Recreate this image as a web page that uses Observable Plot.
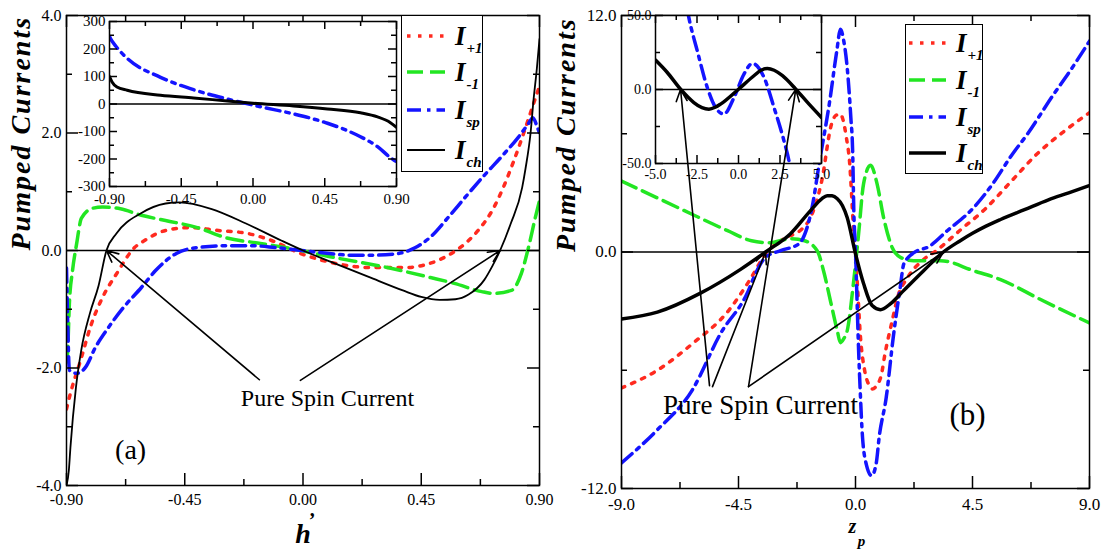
<!DOCTYPE html>
<html><head><meta charset="utf-8">
<script src="https://cdn.jsdelivr.net/npm/d3@7"></script>
<script src="https://cdn.jsdelivr.net/npm/@observablehq/plot@0.6"></script>
<style>
html,body{margin:0;padding:0;background:#fff;}
#root{position:relative;width:1104px;height:554px;overflow:hidden;background:#fff;}
#root svg, #root svg text{font-family:"Liberation Serif","DejaVu Serif","Times New Roman",serif !important;}
.panel{position:absolute;top:0;width:552px;height:554px;}
.layer{position:absolute;}
.legend{position:absolute;background:#fff;border:1.5px solid #000;box-sizing:border-box;}
</style></head><body><div id="root"></div>
<script>
// ---------------- DATA ----------------
const seriesKeys = ["p", "m", "sp", "ch"];
const legendLabels = ["+1", "-1", "sp", "ch"];
const yTitle = "Pumped Currents";
const annotText = "Pure Spin Current";

// Panel (a): x = h', y = pumped current
const aIp = [[-0.9,-2.7],[-0.885,-2.43],[-0.843,-1.82],[-0.809,-1.3],[-0.763,-0.8],[-0.71,-0.4],[-0.641,0.05],[-0.603,0.17],[-0.523,0.34],[-0.428,0.39],[-0.322,0.34],[-0.211,0.29],[-0.12,0.17],[-0.01,-0.05],[0.124,-0.22],[0.257,-0.29],[0.39,-0.29],[0.458,-0.25],[0.565,-0.05],[0.63,0.17],[0.67,0.36],[0.72,0.68],[0.76,1.05],[0.8,1.5],[0.84,2.0],[0.87,2.4],[0.9,2.8]];
const aIm = [[-0.9,-1.9],[-0.896,-1.75],[-0.889,-0.9],[-0.877,-0.34],[-0.862,0.1],[-0.843,0.55],[-0.8,0.72],[-0.763,0.74],[-0.695,0.71],[-0.615,0.6],[-0.523,0.51],[-0.402,0.39],[-0.295,0.22],[-0.162,0.12],[-0.04,0.03],[0.12,-0.12],[0.321,-0.29],[0.485,-0.46],[0.576,-0.56],[0.68,-0.7],[0.725,-0.73],[0.793,-0.68],[0.831,-0.39],[0.858,0.05],[0.884,0.56],[0.9,0.85]];
const aIsp = [[-0.9,-0.3],[-0.896,-1.1],[-0.889,-2.04],[-0.862,-2.09],[-0.828,-1.99],[-0.79,-1.65],[-0.748,-1.36],[-0.683,-0.97],[-0.615,-0.63],[-0.561,-0.34],[-0.482,-0.05],[-0.402,0.05],[-0.295,0.08],[-0.188,0.08],[-0.105,0.05],[0.055,-0.03],[0.188,-0.08],[0.268,-0.08],[0.363,-0.05],[0.428,0.05],[0.49,0.25],[0.55,0.55],[0.62,0.92],[0.69,1.28],[0.76,1.62],[0.82,1.93],[0.858,2.16],[0.875,2.26],[0.89,2.12],[0.9,2.0]];
const aIch = [[-0.9,-4.0],[-0.891,-3.74],[-0.885,-3.35],[-0.864,-2.33],[-0.844,-1.7],[-0.811,-1.07],[-0.778,-0.6],[-0.748,0],[-0.71,0.29],[-0.618,0.63],[-0.523,0.8],[-0.47,0.82],[-0.35,0.71],[-0.217,0.46],[-0.083,0.17],[0,0],[0.116,-0.21],[0.25,-0.45],[0.38,-0.68],[0.45,-0.79],[0.52,-0.84],[0.58,-0.83],[0.63,-0.75],[0.69,-0.5],[0.72,-0.27],[0.75,0],[0.79,0.45],[0.834,1.07],[0.847,1.4],[0.866,2.0],[0.877,2.55],[0.89,3.1],[0.9,3.6]];
// Inset (a)
const iaIsp = [[-0.9,245],[-0.894,238],[-0.86,210],[-0.789,166],[-0.58,97],[-0.373,52],[-0.16,18],[0.047,-10],[0.254,-36],[0.467,-70],[0.674,-119],[0.781,-155],[0.862,-195],[0.9,-210]];
const iaIch = [[-0.9,100],[-0.894,92],[-0.884,80],[-0.853,62],[-0.789,50],[-0.58,32],[-0.373,22],[-0.16,11],[0.0,3],[0.254,-7],[0.467,-18],[0.674,-32],[0.781,-47],[0.862,-68],[0.9,-85]];

// Panel (b): x = z_p
const bIp = [[-9,-6.9],[-7.62,-6.0],[-6.27,-4.65],[-4.88,-2.97],[-4.08,-1.45],[-3.46,-0.1],[-2.77,0.67],[-2.05,1.18],[-1.73,1.75],[-1.3,3.6],[-0.92,6.5],[-0.78,6.9],[-0.6,7.0],[-0.5,6.8],[-0.35,5.8],[-0.23,4.6],[-0.08,1.25],[0.07,-1.6],[0.19,-4.3],[0.35,-6.0],[0.5,-6.7],[0.65,-6.95],[0.8,-6.8],[1.0,-6.2],[1.13,-5.2],[1.41,-3.5],[1.62,-2.3],[2.0,-1.3],[2.6,-0.4],[3.1,0.06],[4.0,1.08],[5.0,2.2],[6.0,3.6],[7.0,5.0],[8.0,6.1],[9,7.07]];
const bIm = [[-9,3.6],[-7.65,2.76],[-6.31,1.93],[-4.92,1.08],[-4.0,0.57],[-3.31,0.47],[-2.5,0.67],[-1.96,0.57],[-1.47,0.06],[-1.23,-0.95],[-0.96,-2.5],[-0.7,-4.0],[-0.58,-4.6],[-0.45,-4.4],[-0.32,-4.0],[-0.08,-1.6],[0.12,0.93],[0.31,3.46],[0.58,4.4],[0.83,3.46],[1.08,1.75],[1.41,0.23],[1.73,-0.27],[2.23,-0.44],[3.27,-0.44],[4.54,-0.95],[5.58,-1.4],[7.1,-2.4],[9,-3.6]];
const bIsp = [[-9,-10.7],[-7.65,-9.06],[-6.29,-7.03],[-5.2,-4.16],[-4.12,-1.96],[-3.91,-1.29],[-3.46,-0.27],[-2.88,0.07],[-2.18,0.41],[-1.86,1.25],[-1.67,2.26],[-1.4,4.46],[-0.99,7.67],[-0.72,10.2],[-0.58,11.3],[-0.45,10.7],[-0.32,9.36],[-0.18,6.83],[-0.11,5.14],[-0.065,2.1],[0,0.06],[0.06,-2.5],[0.12,-5],[0.18,-7],[0.27,-9.4],[0.42,-10.8],[0.62,-11.35],[0.8,-10.7],[0.91,-9.4],[1.18,-7.4],[1.45,-4.35],[1.72,-1.8],[1.86,-0.6],[2.37,0.06],[2.76,0.23],[3.53,1.08],[4.55,2.26],[5.3,3.5],[6.0,4.9],[6.62,6.0],[7.57,7.9],[8.31,9.3],[9,10.7]];
const bIch = [[-9,-3.4],[-7.62,-3.05],[-5.98,-2.1],[-4.42,-0.88],[-3.46,0],[-2.5,0.93],[-1.73,2.1],[-1.3,2.7],[-1.09,2.86],[-0.9,2.85],[-0.7,2.7],[-0.5,2.35],[-0.32,1.75],[0,-0.09],[0.31,-1.6],[0.64,-2.72],[0.96,-2.93],[1.35,-2.62],[1.85,-1.96],[2.62,-0.95],[3.38,0],[4.0,0.55],[4.5,0.95],[5.0,1.3],[5.58,1.65],[6.5,2.15],[7.42,2.65],[8.2,3.0],[9,3.37]];
// Inset (b)
const ibIsp = [[-3.1,55],[-2.99,48.6],[-2.48,26],[-1.88,1.35],[-1.38,-12.2],[-0.88,-16.6],[-0.27,-5.4],[0.33,10.4],[0.84,17.6],[1.54,8.1],[2.14,-12.2],[2.74,-34.7],[3.04,-48.2],[3.12,-53]];
const ibIch = [[-5,19.9],[-4.29,11.5],[-3.49,0.2],[-2.69,-8.8],[-2.2,-12.3],[-1.78,-13.3],[-1.4,-12],[-1.08,-9.9],[-0.07,-0.5],[0.93,9.3],[1.35,13],[1.74,14.2],[2.15,13],[2.65,9.3],[3.45,0.2],[4.25,-9.9],[5,-18.9]];

// Tick values
const aXMaj = [-0.9,-0.45,0,0.45,0.9], aXMin = [-0.675,-0.225,0.225,0.675];
const aYMaj = [-4,-2,0,2,4], aYMin = [-3,-1,1,3];
const bXMaj = [-9,-4.5,0,4.5,9], bXMin = [-6.75,-2.25,2.25,6.75];
const bYMaj = [-12,0,12], bYMin = [-6,6];
const iaYMaj = [-300,-200,-100,0,100,200,300], iaYMin = [-250,-150,-50,50,150,250];
const ibXMaj = [-5,-2.5,0,2.5,5], ibXMin = [-3.75,-1.25,1.25,3.75];
const ibYMaj = [-50,0,50], ibYMin = [-25,25];

// Annotations (data coordinates of the panel they sit in)
const aArrows = [{x1:-0.166,y1:-2.2,x2:-0.748,y2:0},{x1:-0.01,y1:-2.21,x2:0.75,y2:0}];
const aTexts = [{x:0.093,y:-2.52,t:annotText,s:24},{x:-0.656,y:-3.4,t:"(a)",s:28}];
const bArrowFrom = [[-5.615,-6.78],[-5.5,-6.83],[-4.115,-6.83],[-4.115,-6.83]];
const bArrowTo = [["inset",-3.49,0],["main",-3.46,0],["inset",3.45,0],["main",3.38,0]];
const bTexts = [{x:-3.65,y:-7.79,t:annotText,s:27},{x:4.31,y:-8.25,t:"(b)",s:31}];

// ---------------- STYLE ----------------
const FONT = "Liberation Serif";
const COLORS = {p:"#ff2a1f", m:"#22e622", sp:"#1414ff", ch:"#000000"};
const DASH = {p:"3.5,7.5", m:"16,7", sp:"14,6,3.5,6", ch:null};
const st = {background:"transparent", overflow:"visible", fontFamily:FONT};
const tf = {fontFamily: FONT, fill: "black"};

function line(data, key, w) {
  return Plot.line(data, {x: d => d[0], y: d => d[1], stroke: COLORS[key], strokeWidth: w,
    strokeDasharray: DASH[key] || undefined, curve: "monotone-x", clip: true});
}
function ticks4(xMaj, xMin, yMaj, yMin, fw, fh, maj, min) {
  const o = {stroke: "black", strokeWidth: 1.5};
  return [
    Plot.tickX(xMaj, {x: d => d, insetTop: fh - maj, ...o}),
    Plot.tickX(xMaj, {x: d => d, insetBottom: fh - maj, ...o}),
    Plot.tickX(xMin, {x: d => d, insetTop: fh - min, ...o}),
    Plot.tickX(xMin, {x: d => d, insetBottom: fh - min, ...o}),
    Plot.tickY(yMaj, {y: d => d, insetRight: fw - maj, ...o}),
    Plot.tickY(yMaj, {y: d => d, insetLeft: fw - maj, ...o}),
    Plot.tickY(yMin, {y: d => d, insetRight: fw - min, ...o}),
    Plot.tickY(yMin, {y: d => d, insetLeft: fw - min, ...o})
  ];
}
function axes(xT, yT, xf, yf, fs, xpad, ypad) {
  return [
    Plot.axisX({ticks: xT, tickFormat: d => d.toFixed(xf), tickSize: 0, tickPadding: xpad, fontSize: fs, fontFamily: FONT, label: null, anchor: "bottom"}),
    Plot.axisY({ticks: yT, tickFormat: d => d.toFixed(yf), tickSize: 0, tickPadding: ypad, fontSize: fs, fontFamily: FONT, label: null, anchor: "left"})
  ];
}
function legend(left, top, w, h, rows, x1, x2, tx, chW) {
  const div = document.createElement("div");
  div.className = "legend";
  Object.assign(div.style, {left: left + "px", top: top + "px", width: w + "px", height: h + "px"});
  let s = `<svg width="${w}" height="${h}" style="position:absolute;left:-1.5px;top:-1.5px;overflow:visible">`;
  seriesKeys.forEach((k, i) => {
    const y = rows[i];
    s += `<line x1="${x1}" x2="${x2}" y1="${y}" y2="${y}" stroke="${COLORS[k]}" stroke-width="${k === "ch" ? chW : 3.5}" ${DASH[k] ? `stroke-dasharray="${DASH[k]}"` : ""}/>`;
    s += `<text x="${tx}" y="${y + 9}" font-weight="bold" font-style="italic" font-size="27">I<tspan font-size="15" dx="1" dy="8">${legendLabels[i]}</tspan></text>`;
  });
  s += `</svg>`;
  div.innerHTML = s;
  return div;
}
function place(el, left, top) {
  el.classList.add("layer");
  el.style.left = left + "px"; el.style.top = top + "px";
  return el;
}

const root = document.getElementById("root");

// ---------------- PANEL (a) ----------------
const pa = document.createElement("div"); pa.className = "panel"; pa.style.left = "0px"; root.appendChild(pa);
const aMain = Plot.plot({
  width: 552, height: 554, marginLeft: 66, marginRight: 13, marginTop: 15, marginBottom: 69,
  style: st, x: {domain: [-0.9, 0.9]}, y: {domain: [-4, 4]},
  marks: [
    Plot.ruleY([0], {stroke: "black", strokeWidth: 1.5}),
    line(aIp, "p", 3.5), line(aIm, "m", 3.5), line(aIsp, "sp", 3.5), line(aIch, "ch", 1.8),
    Plot.arrow(aArrows, {x1: "x1", y1: "y1", x2: "x2", y2: "y2", stroke: "black", strokeWidth: 1.6, headLength: 12, headAngle: 50}),
    Plot.text(aTexts, {x: "x", y: "y", text: "t", fontSize: d => d.s, ...tf}),
    Plot.frame({stroke: "black", strokeWidth: 1.5}),
    ...ticks4(aXMaj, aXMin, aYMaj, aYMin, 473, 470, 12, 6),
    ...axes(aXMaj, aYMaj, 2, 1, 16, 8, 5),
    Plot.text([yTitle], {frameAnchor: "left", dx: -45, rotate: -90, fontSize: 28, fontWeight: "bold", fontStyle: "italic", ...tf}),
    Plot.text([0], {x: d => d, frameAnchor: "bottom", dy: 57, text: () => "h", fontSize: 28, fontWeight: "bold", fontStyle: "italic", ...tf}),
    Plot.text([0], {x: d => d, frameAnchor: "bottom", dx: 9, dy: 41, text: () => "\u2019", fontSize: 20, fontWeight: "bold", ...tf})
  ]
});
pa.appendChild(place(aMain, 0, 0));

const aInset = Plot.plot({
  width: 362, height: 197, marginLeft: 50, marginRight: 25, marginTop: 6, marginBottom: 26,
  style: st, x: {domain: [-0.9, 0.9]}, y: {domain: [-300, 300]},
  marks: [
    Plot.frame({fill: "white"}),
    Plot.ruleY([0], {stroke: "black", strokeWidth: 1.5}),
    line(iaIsp, "sp", 3.5), line(iaIch, "ch", 3),
    Plot.frame({stroke: "black", strokeWidth: 1.5}),
    ...ticks4(aXMaj, aXMin, iaYMaj, iaYMin, 287, 165, 8, 5),
    ...axes(aXMaj, iaYMaj, 2, 0, 15, 7, 4)
  ]
});
pa.appendChild(place(aInset, 59, 15));
pa.appendChild(legend(401, 15, 82, 157, [21, 57, 95, 135], 6, 44, 54, 2));

// ---------------- PANEL (b) ----------------
const pb = document.createElement("div"); pb.className = "panel"; pb.style.left = "552px"; root.appendChild(pb);
const bMain = Plot.plot({
  width: 552, height: 554, marginLeft: 69, marginRight: 15, marginTop: 15, marginBottom: 66,
  style: st, x: {domain: [-9, 9]}, y: {domain: [-12, 12]},
  marks: [
    Plot.ruleY([0], {stroke: "black", strokeWidth: 1.5}),
    line(bIp, "p", 3.5), line(bIm, "m", 3.5), line(bIsp, "sp", 3.5), line(bIch, "ch", 3.5),
    Plot.text(bTexts, {x: "x", y: "y", text: "t", fontSize: d => d.s, ...tf}),
    Plot.frame({stroke: "black", strokeWidth: 1.5}),
    ...ticks4(bXMaj, bXMin, bYMaj, bYMin, 468, 473, 12, 6),
    ...axes(bXMaj, bYMaj, 1, 1, 17, 9, 5),
    Plot.text([yTitle], {frameAnchor: "left", dx: -55, rotate: -90, fontSize: 28, fontWeight: "bold", fontStyle: "italic", ...tf}),
    Plot.text([0], {x: d => d, frameAnchor: "bottom", dx: -3, dy: 44, text: () => "z", fontSize: 20, fontWeight: "bold", fontStyle: "italic", ...tf}),
    Plot.text([0], {x: d => d, frameAnchor: "bottom", dx: 6, dy: 57, text: () => "p", fontSize: 15, fontWeight: "bold", fontStyle: "italic", ...tf})
  ]
});
pb.appendChild(place(bMain, 0, 0));

const IB_LEFT = 53, IB_TOP = 9;
const bInset = Plot.plot({
  width: 238, height: 178, marginLeft: 50, marginRight: 22, marginTop: 6, marginBottom: 24,
  style: st, x: {domain: [-5, 5]}, y: {domain: [-50, 50]},
  marks: [
    Plot.frame({fill: "white"}),
    Plot.ruleY([0], {stroke: "black", strokeWidth: 1.5}),
    line(ibIsp, "sp", 3.5), line(ibIch, "ch", 3.5),
    Plot.frame({stroke: "black", strokeWidth: 1.5}),
    ...ticks4(ibXMaj, ibXMin, ibYMaj, ibYMin, 166, 148, 8, 5),
    ...axes(ibXMaj, ibYMaj, 1, 1, 14, 6, 4)
  ]
});
pb.appendChild(place(bInset, IB_LEFT, IB_TOP));

// Arrows in panel (b): targets inside the inset are mapped through the inset's scales
const sc = (p, n) => { const s = p.scale(n); return d3.scaleLinear(s.domain, s.range); };
const ibx = sc(bInset, "x"), iby = sc(bInset, "y"), mbx = sc(bMain, "x"), mby = sc(bMain, "y");
const bArrows = bArrowFrom.map((f, i) => {
  const [where, tx, ty] = bArrowTo[i];
  const x2 = where === "inset" ? mbx.invert(IB_LEFT + ibx(tx)) : tx;
  const y2 = where === "inset" ? mby.invert(IB_TOP + iby(ty)) : ty;
  return {x1: f[0], y1: f[1], x2, y2};
});
const bOver = Plot.plot({
  width: 552, height: 554, marginLeft: 69, marginRight: 15, marginTop: 15, marginBottom: 66,
  style: st, x: {domain: [-9, 9], axis: null}, y: {domain: [-12, 12], axis: null},
  marks: [
    Plot.arrow(bArrows, {x1: "x1", y1: "y1", x2: "x2", y2: "y2", stroke: "black", strokeWidth: 1.6, headLength: 12, headAngle: 50})
  ]
});
pb.appendChild(place(bOver, 0, 0));
pb.appendChild(legend(353, 24, 78, 150, [19, 56, 93, 129], 4, 41, 51, 3.5));

// widen the rotated titles a little
d3.selectAll("svg text").filter(function() { return this.textContent === yTitle; }).style("letter-spacing", "2px");
</script></body></html>
